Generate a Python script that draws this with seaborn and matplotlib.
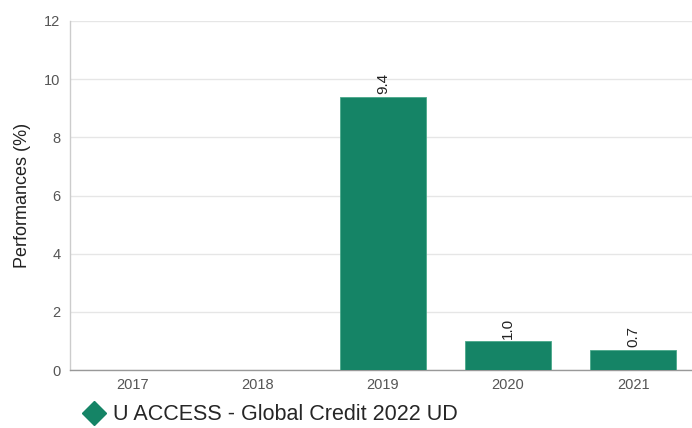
import matplotlib
matplotlib.use("Agg")
import matplotlib.pyplot as plt
import seaborn as sns
import pandas as pd
from matplotlib.lines import Line2D

years = ["2017", "2018", "2019", "2020", "2021"]
values = [None, None, 9.4, 1.0, 0.7]
series_name = "U ACCESS - Global Credit 2022 UD"
yticks = [0, 2, 4, 6, 8, 10, 12]

sns.set_theme(style="white")
plt.rcParams['font.family'] = ['Liberation Sans', 'DejaVu Sans']

green = "#158466"
df = pd.DataFrame({"year": years, "value": [v if v is not None else 0 for v in values]})

fig = plt.figure(figsize=(6.92, 4.28), dpi=100)
ax = fig.add_axes([70/692, 1 - 370/428, (692-70)/692, (370-21)/428])

sns.barplot(data=df, x="year", y="value", color=green, width=0.69, ax=ax,
            saturation=1, edgecolor="#4aa88a", linewidth=0.6, zorder=3)

for i, v in enumerate(values):
    if v is not None:
        ax.text(i, v + 0.08, f"{v:.1f}", rotation=90, ha="center", va="bottom",
                fontsize=11, color="#222222", zorder=4)

ax.set_ylim(0, 12)
ax.set_xlim(-0.5, 4.47)
ax.set_yticks(yticks)
ax.set_yticklabels([str(t) for t in yticks])
ax.yaxis.grid(True, color="#e6e6e6", linewidth=1, zorder=0)
ax.set_axisbelow(True)
for s in ["top", "right"]:
    ax.spines[s].set_visible(False)
ax.spines["left"].set_color("#cccccc")
ax.spines["left"].set_linewidth(1)
ax.spines["bottom"].set_color("#999999")
ax.spines["bottom"].set_linewidth(1)
ax.tick_params(axis="both", colors="#555555", labelsize=10.5, length=0, pad=6)
ax.tick_params(axis="y", pad=7)
ax.set_xlabel("")
ax.set_ylabel("Performances (%)", fontsize=13, color="#222222", labelpad=9)

handle = Line2D([], [], marker="D", color="none", markerfacecolor=green,
                markeredgecolor=green, markersize=12.5)
fig.legend([handle], [series_name], loc="center left",
           bbox_to_anchor=(74/692, 1 - 415/428), frameon=False,
           fontsize=15.5, handletextpad=0.3, borderaxespad=0, handlelength=1.1)

fig.savefig("out.png", dpi=100)
